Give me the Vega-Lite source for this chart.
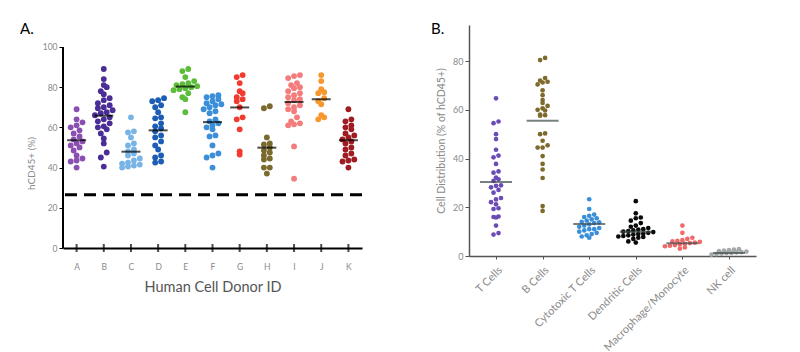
{
"$schema": "https://vega.github.io/schema/vega-lite/v6.json",
"padding": {"left": 20, "top": 22, "right": 5, "bottom": 5},
"spacing": 67,
"config": {"view": {"stroke": null}, "font": "Lato", "axis": {"grid": false, "labelFont": "Lato", "titleFont": "Lato", "titleFontWeight": "normal"}, "title": {"font": "Lato", "fontWeight": "normal"}},
"resolve": {"scale": {"color": "independent"}},
"datasets": {
"a": [
{"g":"A","v":69},{"g":"A","v":64},{"g":"A","v":62.5},{"g":"A","v":61},{"g":"A","v":60},{"g":"A","v":58.5},{"g":"A","v":57},{"g":"A","v":55.5},{"g":"A","v":54},{"g":"A","v":53},{"g":"A","v":52},{"g":"A","v":51},{"g":"A","v":50},{"g":"A","v":48.5},{"g":"A","v":46},{"g":"A","v":44.5},{"g":"A","v":43.5},{"g":"A","v":43},{"g":"A","v":40},
{"g":"B","v":89},{"g":"B","v":84},{"g":"B","v":81},{"g":"B","v":80},{"g":"B","v":78},{"g":"B","v":76.5},{"g":"B","v":74.5},{"g":"B","v":73.5},{"g":"B","v":72},{"g":"B","v":71},{"g":"B","v":70},{"g":"B","v":69.5},{"g":"B","v":68.5},{"g":"B","v":67.5},{"g":"B","v":67},{"g":"B","v":66},{"g":"B","v":65},{"g":"B","v":64},{"g":"B","v":63},{"g":"B","v":62},{"g":"B","v":60.5},{"g":"B","v":60},{"g":"B","v":59},{"g":"B","v":57},{"g":"B","v":54.5},{"g":"B","v":52},{"g":"B","v":47.5},{"g":"B","v":45},{"g":"B","v":40.5},
{"g":"C","v":65},{"g":"C","v":58},{"g":"C","v":57.5},{"g":"C","v":55},{"g":"C","v":52},{"g":"C","v":51},{"g":"C","v":49},{"g":"C","v":48},{"g":"C","v":47},{"g":"C","v":46},{"g":"C","v":44.5},{"g":"C","v":43.5},{"g":"C","v":42.5},{"g":"C","v":42},{"g":"C","v":41.5},{"g":"C","v":41},{"g":"C","v":40.5},{"g":"C","v":40},
{"g":"D","v":74.5},{"g":"D","v":73.5},{"g":"D","v":73},{"g":"D","v":71},{"g":"D","v":70},{"g":"D","v":67.5},{"g":"D","v":65},{"g":"D","v":64.5},{"g":"D","v":62},{"g":"D","v":60.5},{"g":"D","v":59.5},{"g":"D","v":58},{"g":"D","v":56},{"g":"D","v":55},{"g":"D","v":53},{"g":"D","v":51},{"g":"D","v":49},{"g":"D","v":46},{"g":"D","v":45},{"g":"D","v":43},{"g":"D","v":42.5},
{"g":"E","v":89},{"g":"E","v":88},{"g":"E","v":85},{"g":"E","v":83},{"g":"E","v":82},{"g":"E","v":81.5},{"g":"E","v":81},{"g":"E","v":80.5},{"g":"E","v":80},{"g":"E","v":79.5},{"g":"E","v":79},{"g":"E","v":78.5},{"g":"E","v":77},{"g":"E","v":75},{"g":"E","v":74},{"g":"E","v":67.5},
{"g":"F","v":76},{"g":"F","v":75.5},{"g":"F","v":75},{"g":"F","v":74},{"g":"F","v":73},{"g":"F","v":72},{"g":"F","v":71.5},{"g":"F","v":71},{"g":"F","v":70},{"g":"F","v":69},{"g":"F","v":68},{"g":"F","v":67},{"g":"F","v":64},{"g":"F","v":63},{"g":"F","v":62},{"g":"F","v":61},{"g":"F","v":60},{"g":"F","v":59},{"g":"F","v":56},{"g":"F","v":55.5},{"g":"F","v":51},{"g":"F","v":47},{"g":"F","v":46},{"g":"F","v":45},{"g":"F","v":40},
{"g":"G","v":86},{"g":"G","v":85},{"g":"G","v":82},{"g":"G","v":78},{"g":"G","v":77},{"g":"G","v":75},{"g":"G","v":74},{"g":"G","v":73},{"g":"G","v":70},{"g":"G","v":65},{"g":"G","v":64},{"g":"G","v":59},{"g":"G","v":48},{"g":"G","v":46.5},
{"g":"H","v":70.5},{"g":"H","v":69.5},{"g":"H","v":55},{"g":"H","v":52},{"g":"H","v":51.5},{"g":"H","v":50},{"g":"H","v":48.5},{"g":"H","v":47.5},{"g":"H","v":46},{"g":"H","v":44.5},{"g":"H","v":44},{"g":"H","v":40},{"g":"H","v":40},{"g":"H","v":37},
{"g":"I","v":86},{"g":"I","v":85.5},{"g":"I","v":84.5},{"g":"I","v":82},{"g":"I","v":81},{"g":"I","v":80},{"g":"I","v":79.5},{"g":"I","v":78},{"g":"I","v":77},{"g":"I","v":76},{"g":"I","v":75},{"g":"I","v":74},{"g":"I","v":73.5},{"g":"I","v":72},{"g":"I","v":71},{"g":"I","v":70},{"g":"I","v":69},{"g":"I","v":68},{"g":"I","v":65},{"g":"I","v":63},{"g":"I","v":62},{"g":"I","v":61.5},{"g":"I","v":61},{"g":"I","v":50.5},{"g":"I","v":34.5},
{"g":"J","v":86},{"g":"J","v":83},{"g":"J","v":79},{"g":"J","v":77.5},{"g":"J","v":77},{"g":"J","v":74.5},{"g":"J","v":73},{"g":"J","v":71.5},{"g":"J","v":66},{"g":"J","v":65},{"g":"J","v":64},
{"g":"K","v":69},{"g":"K","v":64},{"g":"K","v":63},{"g":"K","v":61},{"g":"K","v":60},{"g":"K","v":59},{"g":"K","v":57},{"g":"K","v":56},{"g":"K","v":55},{"g":"K","v":54},{"g":"K","v":53},{"g":"K","v":52},{"g":"K","v":50},{"g":"K","v":49},{"g":"K","v":47},{"g":"K","v":46},{"g":"K","v":44},{"g":"K","v":43.5},{"g":"K","v":43},{"g":"K","v":40}
],
"am": [
{"g":"A","m":53.6},{"g":"B","m":65.8},{"g":"C","m":47.9},{"g":"D","m":58.5},{"g":"E","m":80.3},{"g":"F","m":62.6},{"g":"G","m":69.9},{"g":"H","m":49.9},{"g":"I","m":72.6},{"g":"J","m":74.0},{"g":"K","m":53.6}
],
"b": [
{"c":"T Cells","v":64.7},{"c":"T Cells","v":55.2},{"c":"T Cells","v":54.5},{"c":"T Cells","v":50},{"c":"T Cells","v":48},{"c":"T Cells","v":43.6},{"c":"T Cells","v":41.2},{"c":"T Cells","v":40.5},{"c":"T Cells","v":37.8},{"c":"T Cells","v":34.7},{"c":"T Cells","v":34.2},{"c":"T Cells","v":32.2},{"c":"T Cells","v":31.5},{"c":"T Cells","v":30.8},{"c":"T Cells","v":29},{"c":"T Cells","v":28.8},{"c":"T Cells","v":28.2},{"c":"T Cells","v":27.1},{"c":"T Cells","v":26},{"c":"T Cells","v":23.8},{"c":"T Cells","v":23.2},{"c":"T Cells","v":22.1},{"c":"T Cells","v":21.2},{"c":"T Cells","v":19.6},{"c":"T Cells","v":19.3},{"c":"T Cells","v":16.2},{"c":"T Cells","v":16},{"c":"T Cells","v":15.8},{"c":"T Cells","v":12.5},{"c":"T Cells","v":9.4},{"c":"T Cells","v":8.8},
{"c":"B Cells","v":81.3},{"c":"B Cells","v":80.4},{"c":"B Cells","v":73},{"c":"B Cells","v":72},{"c":"B Cells","v":71.5},{"c":"B Cells","v":71.2},{"c":"B Cells","v":70.4},{"c":"B Cells","v":68},{"c":"B Cells","v":66},{"c":"B Cells","v":64},{"c":"B Cells","v":62.8},{"c":"B Cells","v":61.6},{"c":"B Cells","v":60.6},{"c":"B Cells","v":60},{"c":"B Cells","v":59.7},{"c":"B Cells","v":58},{"c":"B Cells","v":57.8},{"c":"B Cells","v":57.6},{"c":"B Cells","v":50.3},{"c":"B Cells","v":50},{"c":"B Cells","v":47.3},{"c":"B Cells","v":45.4},{"c":"B Cells","v":44.5},{"c":"B Cells","v":44.5},{"c":"B Cells","v":41},{"c":"B Cells","v":37.8},{"c":"B Cells","v":35.5},{"c":"B Cells","v":32},{"c":"B Cells","v":20.5},{"c":"B Cells","v":18.5},
{"c":"Cytotoxic T Cells","v":23.3},{"c":"Cytotoxic T Cells","v":19.3},{"c":"Cytotoxic T Cells","v":17},{"c":"Cytotoxic T Cells","v":16.5},{"c":"Cytotoxic T Cells","v":16},{"c":"Cytotoxic T Cells","v":15.5},{"c":"Cytotoxic T Cells","v":15},{"c":"Cytotoxic T Cells","v":14.5},{"c":"Cytotoxic T Cells","v":14},{"c":"Cytotoxic T Cells","v":13.8},{"c":"Cytotoxic T Cells","v":13.5},{"c":"Cytotoxic T Cells","v":13},{"c":"Cytotoxic T Cells","v":12.5},{"c":"Cytotoxic T Cells","v":12},{"c":"Cytotoxic T Cells","v":11.5},{"c":"Cytotoxic T Cells","v":11},{"c":"Cytotoxic T Cells","v":11},{"c":"Cytotoxic T Cells","v":10.5},{"c":"Cytotoxic T Cells","v":10},{"c":"Cytotoxic T Cells","v":9.5},{"c":"Cytotoxic T Cells","v":9},{"c":"Cytotoxic T Cells","v":8.5},{"c":"Cytotoxic T Cells","v":8},{"c":"Cytotoxic T Cells","v":7.5},
{"c":"Dendritic Cells","v":22.5},{"c":"Dendritic Cells","v":17.5},{"c":"Dendritic Cells","v":15.8},{"c":"Dendritic Cells","v":15.5},{"c":"Dendritic Cells","v":14.5},{"c":"Dendritic Cells","v":13.5},{"c":"Dendritic Cells","v":12.5},{"c":"Dendritic Cells","v":12},{"c":"Dendritic Cells","v":11.5},{"c":"Dendritic Cells","v":11},{"c":"Dendritic Cells","v":10.8},{"c":"Dendritic Cells","v":10.5},{"c":"Dendritic Cells","v":10.2},{"c":"Dendritic Cells","v":10},{"c":"Dendritic Cells","v":9.8},{"c":"Dendritic Cells","v":9.5},{"c":"Dendritic Cells","v":9.2},{"c":"Dendritic Cells","v":9},{"c":"Dendritic Cells","v":8.8},{"c":"Dendritic Cells","v":8.5},{"c":"Dendritic Cells","v":8.2},{"c":"Dendritic Cells","v":8},{"c":"Dendritic Cells","v":7.8},{"c":"Dendritic Cells","v":7.5},{"c":"Dendritic Cells","v":7},{"c":"Dendritic Cells","v":6},{"c":"Dendritic Cells","v":5.5},
{"c":"Macrophage/Monocyte","v":12.5},{"c":"Macrophage/Monocyte","v":9.5},{"c":"Macrophage/Monocyte","v":7.5},{"c":"Macrophage/Monocyte","v":7},{"c":"Macrophage/Monocyte","v":6.5},{"c":"Macrophage/Monocyte","v":6.2},{"c":"Macrophage/Monocyte","v":6},{"c":"Macrophage/Monocyte","v":5.8},{"c":"Macrophage/Monocyte","v":5.5},{"c":"Macrophage/Monocyte","v":5.3},{"c":"Macrophage/Monocyte","v":5},{"c":"Macrophage/Monocyte","v":4.8},{"c":"Macrophage/Monocyte","v":4.5},{"c":"Macrophage/Monocyte","v":4.2},{"c":"Macrophage/Monocyte","v":4},{"c":"Macrophage/Monocyte","v":3.5},{"c":"Macrophage/Monocyte","v":3},
{"c":"NK cell","v":2.8},{"c":"NK cell","v":2.6},{"c":"NK cell","v":2.4},{"c":"NK cell","v":2.2},{"c":"NK cell","v":2},{"c":"NK cell","v":1.8},{"c":"NK cell","v":1.6},{"c":"NK cell","v":1.5},{"c":"NK cell","v":1.3},{"c":"NK cell","v":1.2},{"c":"NK cell","v":1},{"c":"NK cell","v":0.8},{"c":"NK cell","v":0.6}
],
"bm": [
{"c":"T Cells","m":30.4},{"c":"B Cells","m":55.5},{"c":"Cytotoxic T Cells","m":13.1},{"c":"Dendritic Cells","m":10.0},{"c":"Macrophage/Monocyte","m":5.2},{"c":"NK cell","m":1.2}
]
},
"hconcat": [
{
"width": 299, "height": 223,
"title": {"text": "A.", "anchor": "start", "frame": "group", "dx": -43, "fontSize": 15, "color": "black", "offset": 0, "dy": 12},
"layer": [
{
"data": {"values": [{"threshold": 26.5}]},
"mark": {"type": "rule", "strokeDash": [12, 7], "strokeWidth": 3, "color": "black"},
"encoding": {"y": {"field": "threshold", "type": "quantitative", "scale": {"domain": [0, 110.9], "nice": false}}}
},
{
"data": {"values": [{"lo": 0, "hi": 100}]},
"mark": {"type": "rule", "strokeWidth": 2, "color": "black"},
"encoding": {"x": {"datum": -0.5, "type": "quantitative"}, "y": {"field": "lo", "type": "quantitative"}, "y2": {"field": "hi"}}
},
{
"data": {"name": "a"},
"transform": [
{"bin": {"step": 3}, "field": "v", "as": "vb"},
{"joinaggregate": [{"op": "count", "as": "n"}], "groupby": ["g", "vb"]},
{"window": [{"op": "row_number", "as": "k"}], "groupby": ["g", "vb"], "sort": [{"field": "v", "order": "ascending"}]},
{"calculate": "indexof(['A','B','C','D','E','F','G','H','I','J','K'], datum.g) + 0.217 * (datum.k - 1 - (datum.n - 1) / 2)", "as": "xp"}
],
"mark": {"type": "circle", "size": 34, "opacity": 1},
"encoding": {
"x": {"field": "xp", "type": "quantitative", "scale": {"domain": [-0.5, 10.5], "nice": false, "zero": false},
 "axis": {"title": "Human Cell Donor ID", "values": [0,1,2,3,4,5,6,7,8,9,10], "tickCount": 12, "labelExpr": "['A','B','C','D','E','F','G','H','I','J','K'][datum.value]", "labelFlush": false, "labelOverlap": false, "domainColor": "black", "domainWidth": 2, "ticks": false, "labelColor": "#8a8a8a", "labelFontSize": 8.5, "labelPadding": 14, "titleFontSize": 14.5, "titleColor": "#555555", "titlePadding": 10}},
"y": {"field": "v", "type": "quantitative",
 "axis": {"title": "hCD45+ (%)", "values": [0, 20, 40, 60, 80, 100], "tickCount": 7, "domain": false, "tickColor": "black", "tickSize": 4, "labelColor": "#8a8a8a", "labelFontSize": 8.5, "titleColor": "#8a8a8a", "titleFontSize": 10, "titlePadding": 6, "titleY": 138}},
"color": {"field": "g", "type": "nominal", "legend": null,
 "scale": {"domain": ["A","B","C","D","E","F","G","H","I","J","K"], "range": ["#8a4fb0","#4a2d96","#79b4e6","#1c5db5","#5cbd3b","#3b8ed8","#f23a30","#7a6a2e","#f47c7c","#f7982f","#9e1c22"]}}
}
},
{
"data": {"name": "am"},
"transform": [{"calculate": "indexof(['A','B','C','D','E','F','G','H','I','J','K'], datum.g)", "as": "xp"}],
"mark": {"type": "tick", "orient": "horizontal", "color": "black", "thickness": 2, "size": 19},
"encoding": {"x": {"field": "xp", "type": "quantitative"}, "y": {"field": "m", "type": "quantitative"}}
},
{
"data": {"name": "am"},
"transform": [{"calculate": "indexof(['A','B','C','D','E','F','G','H','I','J','K'], datum.g)", "as": "xp"}],
"mark": {"type": "tick", "orient": "vertical", "color": "black", "thickness": 2, "size": 8},
"encoding": {"x": {"field": "xp", "type": "quantitative"}, "y": {"datum": 0, "type": "quantitative"}}
}
]
},
{
"width": 287, "height": 231,
"title": {"text": "B.", "anchor": "start", "frame": "group", "dx": -38, "fontSize": 15, "color": "black", "offset": 0, "dy": 12},
"layer": [
{
"data": {"name": "b"},
"transform": [
{"bin": {"step": 2}, "field": "v", "as": "vb"},
{"joinaggregate": [{"op": "count", "as": "n"}], "groupby": ["c", "vb"]},
{"window": [{"op": "row_number", "as": "k"}], "groupby": ["c", "vb"], "sort": [{"field": "v", "order": "ascending"}]},
{"calculate": "indexof(['T Cells','B Cells','Cytotoxic T Cells','Dendritic Cells','Macrophage/Monocyte','NK cell'], datum.c) + 0.107 * (datum.k - 1 - (datum.n - 1) / 2)", "as": "xp"}
],
"mark": {"type": "circle", "size": 22, "opacity": 1},
"encoding": {
"x": {"field": "xp", "type": "quantitative", "scale": {"domain": [-0.58, 5.58], "nice": false, "zero": false},
 "axis": {"title": null, "values": [0,1,2,3,4,5], "tickCount": 7, "labelExpr": "['T Cells','B Cells','Cytotoxic T Cells','Dendritic Cells','Macrophage/Monocyte','NK cell'][datum.value]", "labelFlush": false, "labelOverlap": false, "labelAngle": -45, "labelAlign": "right", "labelBaseline": "top", "domainColor": "#555555", "domainWidth": 1.5, "tickColor": "#555555", "tickSize": 3, "labelColor": "#8a8a8a", "labelFontSize": 11, "labelPadding": 5}},
"y": {"field": "v", "type": "quantitative", "scale": {"domain": [0, 94.8], "nice": false},
 "axis": {"title": "Cell Distribution (% of hCD45+)", "values": [0, 20, 40, 60, 80], "tickCount": 6, "domainColor": "#555555", "domainWidth": 1.5, "tickColor": "#555555", "tickSize": 4, "labelColor": "#8a8a8a", "labelFontSize": 9, "titleColor": "#8a8a8a", "titleFontSize": 10.5, "titlePadding": 6}},
"color": {"field": "c", "type": "nominal", "legend": null,
 "scale": {"domain": ["T Cells","B Cells","Cytotoxic T Cells","Dendritic Cells","Macrophage/Monocyte","NK cell"], "range": ["#6a4cb4","#7d6a2c","#3a8fd8","#0a0a0a","#f06a6a","#a5a8aa"]}}
}
},
{
"data": {"name": "bm"},
"transform": [{"calculate": "indexof(['T Cells','B Cells','Cytotoxic T Cells','Dendritic Cells','Macrophage/Monocyte','NK cell'], datum.c)", "as": "xp"}],
"mark": {"type": "tick", "orient": "horizontal", "color": "#3d4b4b", "thickness": 2, "size": 32},
"encoding": {"x": {"field": "xp", "type": "quantitative"}, "y": {"field": "m", "type": "quantitative"}}
}
]
}
]
}
